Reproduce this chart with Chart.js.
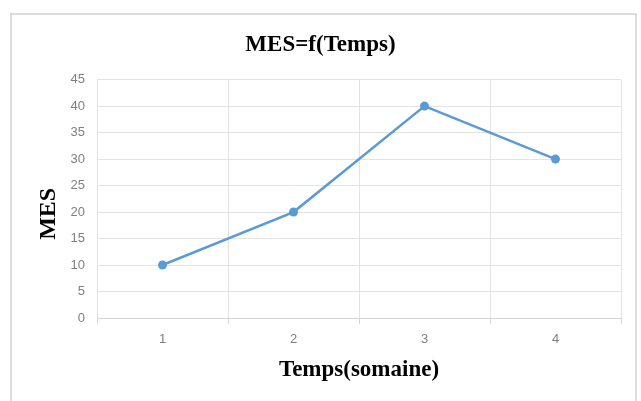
<!DOCTYPE html>
<html>
<head>
<meta charset="utf-8">
<script src="https://cdn.jsdelivr.net/npm/chart.js@4"></script>
<style>
  html, body { margin: 0; padding: 0; background: #ffffff; }
  body { width: 641px; height: 401px; position: relative; overflow: hidden; }
  #frame {
    position: absolute; left: 10px; top: 13px; width: 627px; height: 400px;
    border: 2px solid #dcdcdc; box-sizing: border-box;
  }
  #wrap { position: absolute; left: 0; top: 0; width: 641px; height: 401px; }
</style>
</head>
<body>
<div id="frame"></div>
<div id="wrap"><canvas id="chart" width="641" height="401"></canvas></div>
<script>
// Suspended solids (MES) measured each week
const weeks = ['1', '2', '3', '4'];
const mesValues = [10, 20, 40, 30];
const yTicks = [0, 5, 10, 15, 20, 25, 30, 35, 40, 45];

const chartTitle = 'MES=f(Temps)';
const xTitle = 'Temps(somaine)';
const yTitle = 'MES';

const serif = "'Liberation Serif', 'Times New Roman', serif";
const sans = "'Liberation Sans', Arial, sans-serif";
const gridColor = '#e3e3e3';
const tickColor = '#7f7f7f';

// Rotated value-axis caption, drawn beside the y tick labels
const yCaption = {
  id: 'yCaption',
  afterDraw(chart) {
    const { ctx, chartArea, scales } = chart;
    ctx.save();
    ctx.font = 'bold 24px ' + serif;
    ctx.fillStyle = '#000000';
    ctx.textAlign = 'center';
    ctx.textBaseline = 'middle';
    ctx.translate(scales.y.left + 49, (chartArea.top + chartArea.bottom) / 2 + 15);
    ctx.rotate(-Math.PI / 2);
    ctx.fillText(yTitle, 0, 0);
    ctx.restore();
  }
};

new Chart(document.getElementById('chart'), {
  type: 'line',
  data: {
    labels: weeks,
    datasets: [{
      data: mesValues,
      borderColor: '#5b9bd5',
      backgroundColor: '#5b9bd5',
      borderWidth: 2.5,
      pointRadius: 4.5,
      pointHoverRadius: 4.5,
      pointBorderWidth: 0,
      tension: 0,
      fill: false
    }]
  },
  options: {
    responsive: false,
    animation: false,
    layout: { padding: 0 },
    plugins: {
      legend: { display: false },
      tooltip: { enabled: false },
      title: {
        display: true,
        text: chartTitle,
        color: '#000000',
        font: { family: serif, size: 23, weight: 'bold' },
        padding: { top: 31, bottom: 21 }
      }
    },
    scales: {
      x: {
        type: 'category',
        offset: true,
        grid: {
          offset: true,
          color: gridColor,
          lineWidth: 1,
          drawTicks: true,
          tickLength: 6,
          tickColor: '#d4d4d4'
        },
        border: { color: '#d4d4d4', width: 1 },
        ticks: {
          color: tickColor,
          font: { family: sans, size: 13 },
          padding: 8,
          maxRotation: 0
        },
        title: {
          display: true,
          text: xTitle,
          color: '#000000',
          font: { family: serif, size: 23, weight: 'bold' },
          padding: { top: 0, bottom: 17 }
        },
        afterFit(scale) { scale.height = 83; }
      },
      y: {
        min: 0,
        max: 45,
        afterBuildTicks(scale) { scale.ticks = yTicks.map(v => ({ value: v })); },
        grid: { color: gridColor, lineWidth: 1, drawTicks: false },
        border: { display: false },
        ticks: {
          color: tickColor,
          font: { family: sans, size: 13 },
          padding: 12
        },
        afterFit(scale) { scale.width = 97; }
      },
      // empty margin column on the right of the plot
      margin: {
        type: 'linear',
        position: 'right',
        display: true,
        grid: { display: false, drawTicks: false },
        border: { display: false },
        ticks: { display: false },
        afterFit(scale) { scale.width = 20; }
      }
    }
  },
  plugins: [yCaption]
});
</script>
</body>
</html>
